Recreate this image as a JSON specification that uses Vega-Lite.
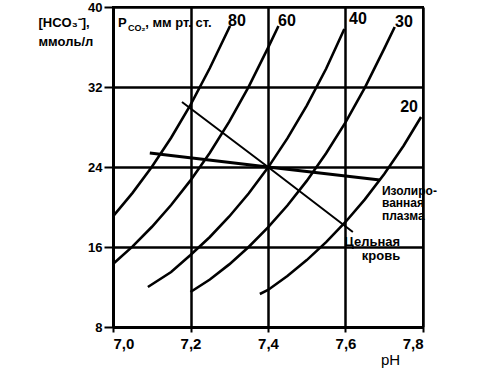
{
  "$schema": "https://vega.github.io/schema/vega-lite/v6.json",
  "width": 310,
  "height": 320,
  "autosize": {"type": "none"},
  "padding": {"left": 113, "top": 7, "right": 75, "bottom": 45},
  "background": "white",
  "config": {
    "view": {"stroke": "black", "strokeWidth": 2},
    "font": "Liberation Sans",
    "axis": {
      "labelFont": "Liberation Sans",
      "labelFontWeight": "bold",
      "labelColor": "black",
      "titleFont": "Liberation Sans",
      "titleColor": "black",
      "domainColor": "black",
      "domainWidth": 3,
      "tickColor": "black",
      "tickWidth": 2,
      "grid": true,
      "gridColor": "black",
      "gridWidth": 2.5,
      "gridOpacity": 1
    }
  },
  "datasets": {
    "curves": [
      {"p": "80", "pH": 7.0, "v": 19.06}, {"p": "80", "pH": 7.05, "v": 21.39}, {"p": "80", "pH": 7.1, "v": 24.0}, {"p": "80", "pH": 7.15, "v": 26.93}, {"p": "80", "pH": 7.2, "v": 30.21}, {"p": "80", "pH": 7.25, "v": 33.9}, {"p": "80", "pH": 7.302, "v": 38.1},
      {"p": "60", "pH": 7.0, "v": 14.3}, {"p": "60", "pH": 7.05, "v": 16.04}, {"p": "60", "pH": 7.1, "v": 18.0}, {"p": "60", "pH": 7.15, "v": 20.2}, {"p": "60", "pH": 7.2, "v": 22.66}, {"p": "60", "pH": 7.25, "v": 25.43}, {"p": "60", "pH": 7.3, "v": 28.53}, {"p": "60", "pH": 7.35, "v": 32.01}, {"p": "60", "pH": 7.4, "v": 35.92}, {"p": "60", "pH": 7.427, "v": 38.1},
      {"p": "40", "pH": 7.09, "v": 12.0}, {"p": "40", "pH": 7.15, "v": 13.5}, {"p": "40", "pH": 7.2, "v": 15.2}, {"p": "40", "pH": 7.25, "v": 17.0}, {"p": "40", "pH": 7.3, "v": 19.05}, {"p": "40", "pH": 7.35, "v": 21.35}, {"p": "40", "pH": 7.4, "v": 23.94}, {"p": "40", "pH": 7.45, "v": 26.86}, {"p": "40", "pH": 7.5, "v": 30.14}, {"p": "40", "pH": 7.55, "v": 33.82}, {"p": "40", "pH": 7.597, "v": 37.8},
      {"p": "30", "pH": 7.2, "v": 11.5}, {"p": "30", "pH": 7.25, "v": 12.75}, {"p": "30", "pH": 7.3, "v": 14.26}, {"p": "30", "pH": 7.35, "v": 16.0}, {"p": "30", "pH": 7.4, "v": 17.96}, {"p": "30", "pH": 7.45, "v": 20.15}, {"p": "30", "pH": 7.5, "v": 22.61}, {"p": "30", "pH": 7.55, "v": 25.37}, {"p": "30", "pH": 7.6, "v": 28.46}, {"p": "30", "pH": 7.65, "v": 31.93}, {"p": "30", "pH": 7.7, "v": 35.83}, {"p": "30", "pH": 7.727, "v": 38.0},
      {"p": "20", "pH": 7.379, "v": 11.3}, {"p": "20", "pH": 7.4, "v": 11.7}, {"p": "20", "pH": 7.45, "v": 13.1}, {"p": "20", "pH": 7.5, "v": 14.69}, {"p": "20", "pH": 7.55, "v": 16.49}, {"p": "20", "pH": 7.6, "v": 18.5}, {"p": "20", "pH": 7.65, "v": 20.76}, {"p": "20", "pH": 7.7, "v": 23.29}, {"p": "20", "pH": 7.75, "v": 26.13}, {"p": "20", "pH": 7.795, "v": 29.0}
    ],
    "blood": [
      {"s": "whole", "pH": 7.178, "v": 30.5}, {"s": "whole", "pH": 7.4, "v": 24.0}, {"s": "whole", "pH": 7.619, "v": 17.5}
    ],
    "plasma": [
      {"s": "plasma", "pH": 7.095, "v": 25.4}, {"s": "plasma", "pH": 7.4, "v": 24.0}, {"s": "plasma", "pH": 7.689, "v": 22.7}
    ],
    "curveLabels": [
      {"t": "80", "pH": 7.32, "v": 38.6},
      {"t": "60", "pH": 7.449, "v": 38.6},
      {"t": "40", "pH": 7.632, "v": 38.8},
      {"t": "30", "pH": 7.751, "v": 38.5},
      {"t": "20", "pH": 7.764, "v": 30.0}
    ],
    "plasmaText": [
      {"t": "Изолиро-", "pH": 7.694, "v": 21.65},
      {"t": "ванная", "pH": 7.694, "v": 20.4},
      {"t": "плазма", "pH": 7.694, "v": 19.15}
    ],
    "bloodText": [
      {"t": "Цельная", "pH": 7.741, "v": 16.5},
      {"t": "кровь", "pH": 7.741, "v": 15.1}
    ],
    "pLabel": [{"t": "P", "pH": 7.013, "v": 38.0}],
    "coLabel": [{"t": "CO₂", "pH": 7.039, "v": 37.6}],
    "unitLabel": [{"t": ", мм рт. ст.", "pH": 7.083, "v": 38.0}]
  },
  "encoding": {
    "x": {
      "field": "pH", "type": "quantitative",
      "scale": {"domain": [7.0, 7.8], "nice": false, "zero": false},
      "axis": {
        "values": [7.0, 7.2, 7.4, 7.6, 7.8],
        "labelExpr": "replace(format(datum.value, '.1f'), '.', ',')",
        "labelFontSize": 15,
        "labelPadding": 4,
        "tickSize": 5,
        "title": "pH",
        "titleFontSize": 15,
        "titleFontWeight": "normal",
        "titleAnchor": null,
        "titleX": 277,
        "titleY": 32,
        "titleAlign": "center",
        "titleBaseline": "middle"
      }
    },
    "y": {
      "field": "v", "type": "quantitative",
      "scale": {"domain": [8, 40], "nice": false, "zero": false},
      "axis": {
        "values": [8, 16, 24, 32, 40],
        "labelFontSize": 13,
        "labelPadding": 2,
        "tickSize": 9,
        "title": ["[HCO₃⁻],", "ммоль/л"],
        "titleFontSize": 13,
        "titleFontWeight": "bold",
        "titleAngle": 0,
        "titleAnchor": null,
        "titleAlign": "left",
        "titleBaseline": "top",
        "titleX": -75,
        "titleY": 9,
        "titleLineHeight": 19
      }
    }
  },
  "layer": [
    {
      "data": {"name": "curves"},
      "mark": {"type": "line", "color": "black", "strokeWidth": 2.6},
      "encoding": {"detail": {"field": "p"}}
    },
    {
      "data": {"name": "blood"},
      "mark": {"type": "line", "color": "black", "strokeWidth": 2},
      "encoding": {}
    },
    {
      "data": {"name": "plasma"},
      "mark": {"type": "line", "color": "black", "strokeWidth": 2.8},
      "encoding": {}
    },
    {
      "data": {"name": "curveLabels"},
      "mark": {"type": "text", "fontSize": 16, "fontWeight": "bold", "color": "black", "align": "center", "baseline": "middle"},
      "encoding": {"text": {"field": "t"}}
    },
    {
      "data": {"name": "plasmaText"},
      "mark": {"type": "text", "fontSize": 12, "fontWeight": "bold", "color": "black", "align": "left", "baseline": "middle"},
      "encoding": {"text": {"field": "t"}}
    },
    {
      "data": {"name": "bloodText"},
      "mark": {"type": "text", "fontSize": 13, "fontWeight": "bold", "color": "black", "align": "right", "baseline": "middle"},
      "encoding": {"text": {"field": "t"}}
    },
    {
      "data": {"name": "pLabel"},
      "mark": {"type": "text", "fontSize": 13, "fontWeight": "bold", "color": "black", "align": "left", "baseline": "alphabetic"},
      "encoding": {"text": {"field": "t"}}
    },
    {
      "data": {"name": "coLabel"},
      "mark": {"type": "text", "fontSize": 9, "fontWeight": "bold", "color": "black", "align": "left", "baseline": "alphabetic"},
      "encoding": {"text": {"field": "t"}}
    },
    {
      "data": {"name": "unitLabel"},
      "mark": {"type": "text", "fontSize": 13, "fontWeight": "bold", "color": "black", "align": "left", "baseline": "alphabetic"},
      "encoding": {"text": {"field": "t"}}
    }
  ]
}
